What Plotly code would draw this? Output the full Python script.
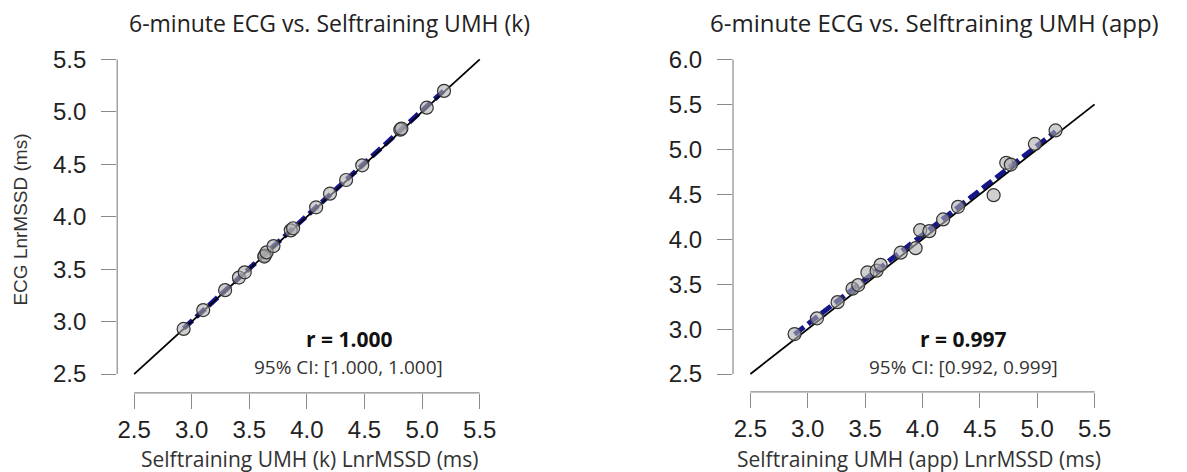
import numpy as np
import plotly.graph_objects as go

W, H = 1187, 472

# ---------------- data ----------------
x_ticks = [2.5, 3.0, 3.5, 4.0, 4.5, 5.0, 5.5]
y_ticks_k = [2.5, 3.0, 3.5, 4.0, 4.5, 5.0, 5.5]
y_ticks_app = [2.5, 3.0, 3.5, 4.0, 4.5, 5.0, 5.5, 6.0]

# Selftraining UMH (k) vs ECG
k_x = [2.93, 3.10, 3.29, 3.41, 3.46, 3.635, 3.63, 3.65, 3.71, 3.86, 3.88,
       4.08, 4.20, 4.34, 4.48, 4.81, 4.82, 5.04, 5.19]
k_ecg = [2.93, 3.11, 3.30, 3.42, 3.47, 3.63, 3.62, 3.66, 3.72, 3.87, 3.89,
         4.09, 4.22, 4.35, 4.49, 4.83, 4.84, 5.04, 5.20]

# Selftraining UMH (app) vs ECG
app_x = [2.885, 3.08, 3.26, 3.39, 3.44, 3.52, 3.60, 3.635, 3.81, 3.94, 3.98,
         4.06, 4.18, 4.31, 4.62, 4.73, 4.77, 4.98, 5.16]
app_ecg = [2.945, 3.12, 3.30, 3.45, 3.49, 3.63, 3.65, 3.715, 3.85, 3.90, 4.10,
           4.09, 4.22, 4.36, 4.49, 4.85, 4.83, 5.06, 5.21]

titles = ["6-minute ECG vs. Selftraining UMH (k)",
          "6-minute ECG vs. Selftraining UMH (app)"]
x_titles = ["Selftraining UMH (k) LnrMSSD (ms)",
            "Selftraining UMH (app) LnrMSSD (ms)"]
y_title = "ECG LnrMSSD (ms)"
r_texts = ["r = 1.000", "r = 0.997"]
ci_texts = ["95% CI: [1.000, 1.000]", "95% CI: [0.992, 0.999]"]

# ---------------- layout geometry (pixels) ----------------
panels = [
    dict(xt=x_ticks, yt=y_ticks_k, x=k_x, y=k_ecg,
         xfirst=135, xlast=483, yline=118, right=492,
         yfirst=373, ylast=55, xline=392, top=46,
         title_cx=332, xt_cx=312, r_cx=351, tsize=23),
    dict(xt=x_ticks, yt=y_ticks_app, x=app_x, y=app_ecg,
         xfirst=755.5, xlast=1102, yline=738, right=1112,
         yfirst=373, ylast=55, xline=391, top=46,
         title_cx=941, xt_cx=925, r_cx=970, tsize=24),
]

TICK_FONT = dict(family="Liberation Sans, Arial", size=24, color="#222")
TEXT_FONT = "Open Sans"
AXIS_GREY = "#8a8a8a"
BLUE = "#16168c"

fig = go.Figure()
layout_axes = {}
shapes = []
annotations = []

for i, p in enumerate(panels):
    sfx = "" if i == 0 else str(i + 1)
    xa, ya = "x" + sfx, "y" + sfx
    tmin, tmax = min(p["xt"]), max(p["xt"])
    ymin, ymax = min(p["yt"]), max(p["yt"])
    sx = (p["xlast"] - p["xfirst"]) / (tmax - tmin)
    sy = (p["yfirst"] - p["ylast"]) / (ymax - ymin)
    xr = [tmin - (p["xfirst"] - p["yline"]) / sx, tmax + (p["right"] - p["xlast"]) / sx]
    yr = [ymin - (p["xline"] - p["yfirst"]) / sy, ymax + (p["ylast"] - p["top"]) / sy]

    # regression line (dashed, under the identity line)
    xs = np.array(p["x"])
    ys = np.array(p["y"])
    b, a = np.polyfit(xs, ys, 1)
    fx = np.array([xs.min(), xs.max()])
    fig.add_trace(go.Scatter(x=fx, y=a + b * fx, mode="lines",
                             line=dict(color=BLUE, width=5, dash="12px,5px"),
                             xaxis=xa, yaxis=ya, showlegend=False, hoverinfo="skip"))
    # identity line
    fig.add_trace(go.Scatter(x=[tmin, tmax], y=[tmin, tmax], mode="lines",
                             line=dict(color="black", width=1.8), xaxis=xa, yaxis=ya,
                             showlegend=False, hoverinfo="skip"))
    # points
    fig.add_trace(go.Scatter(x=p["x"], y=p["y"], mode="markers",
                             marker=dict(size=13, color="rgba(175,175,175,0.6)",
                                         line=dict(color="#333", width=1.2)),
                             xaxis=xa, yaxis=ya, showlegend=False))

    xkey = "xaxis" + sfx
    ykey = "yaxis" + sfx
    layout_axes[xkey] = dict(
        domain=[p["yline"] / W, p["right"] / W], range=xr, anchor=ya,
        tickvals=p["xt"], ticktext=[f"{v:.1f}" for v in p["xt"]],
        ticks="outside", ticklen=15, tickcolor=AXIS_GREY, tickwidth=1,
        showline=False, showgrid=False, zeroline=False,
        tickfont=TICK_FONT, ticklabelstandoff=0, fixedrange=True)
    layout_axes[ykey] = dict(
        domain=[(H - p["xline"]) / H, (H - p["top"]) / H], range=yr, anchor=xa,
        tickvals=p["yt"], ticktext=[f"{v:.1f}" for v in p["yt"]],
        ticks="outside", ticklen=15, tickcolor=AXIS_GREY, tickwidth=1,
        showline=False, showgrid=False, zeroline=False,
        tickfont=TICK_FONT, ticklabelstandoff=10, fixedrange=True)

    # R-style detached axis lines spanning first..last tick
    shapes.append(dict(type="line", xref=xa, yref=ya + " domain",
                       x0=tmin, x1=tmax, y0=0, y1=0,
                       line=dict(color=AXIS_GREY, width=1.2)))
    shapes.append(dict(type="line", xref=xa + " domain", yref=ya,
                       x0=0, x1=0, y0=ymin, y1=ymax,
                       line=dict(color=AXIS_GREY, width=1.2)))

    # titles and texts
    annotations.append(dict(text=titles[i], xref="paper", yref="paper",
                            x=p["title_cx"] / W, y=(H - 18) / H,
                            xanchor="center", yanchor="middle", showarrow=False,
                            font=dict(family=TEXT_FONT, size=p["tsize"], color="#222")))
    annotations.append(dict(text=x_titles[i], xref="paper", yref="paper",
                            x=p["xt_cx"] / W, y=(H - 459) / H,
                            xanchor="center", yanchor="middle", showarrow=False,
                            font=dict(family=TEXT_FONT, size=21, color="#333")))
    annotations.append(dict(text="<b>" + r_texts[i] + "</b>", xref="paper", yref="paper",
                            x=p["r_cx"] / W, y=(H - 338) / H,
                            xanchor="center", yanchor="middle", showarrow=False,
                            font=dict(family=TEXT_FONT, size=21, color="#111")))
    annotations.append(dict(text=ci_texts[i], xref="paper", yref="paper",
                            x=p["r_cx"] / W, y=(H - 366) / H,
                            xanchor="center", yanchor="middle", showarrow=False,
                            font=dict(family=TEXT_FONT, size=19, color="#333")))

annotations.append(dict(text=y_title, xref="paper", yref="paper",
                        x=21 / W, y=(H - 217) / H, textangle=-90,
                        xanchor="center", yanchor="middle", showarrow=False,
                        font=dict(family="Liberation Sans, Arial", size=19, color="#333")))

fig.update_layout(
    width=W, height=H, margin=dict(l=0, r=0, t=0, b=0),
    paper_bgcolor="white", plot_bgcolor="white",
    shapes=shapes, annotations=annotations, showlegend=False,
    **layout_axes)

fig.write_html("out.html", config={"displayModeBar": False},
               post_script="document.body.style.margin='0px';document.body.style.overflow='hidden';")
